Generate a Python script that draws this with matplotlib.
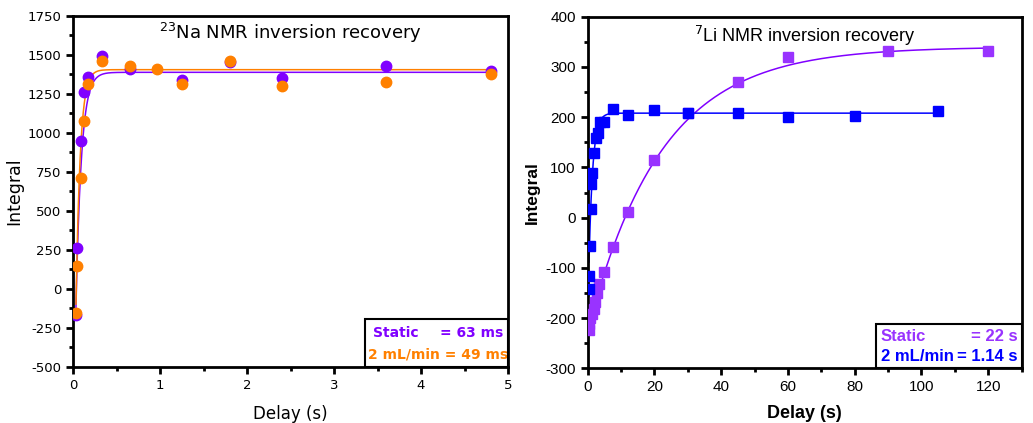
import numpy as np
import matplotlib
matplotlib.use("Agg")
import matplotlib.pyplot as plt
from matplotlib.ticker import MultipleLocator

plt.rcParams["axes.unicode_minus"] = False

# 23Na inversion recovery data (delay in s)
na_static_t = [0.03, 0.05, 0.09, 0.13, 0.17, 0.33, 0.65, 1.25, 1.8, 2.4, 3.6, 4.8]
na_static_y = [-169, 263, 947, 1261, 1355, 1494, 1410, 1340, 1452, 1352, 1428, 1397]
na_flow_t = [0.03, 0.05, 0.09, 0.13, 0.17, 0.33, 0.65, 0.97, 1.25, 1.8, 2.4, 3.6, 4.8]
na_flow_y = [-155, 146, 712, 1075, 1312, 1458, 1430, 1410, 1310, 1462, 1298, 1322, 1378]

# 7Li inversion recovery data (delay in s)
li_static_t = [0.4, 0.5, 0.8, 1.2, 1.8, 2.3, 2.8, 3.5, 5, 7.5, 12, 20, 30, 45, 60, 90, 120]
li_static_y = [-224, -211, -199, -191, -181, -168, -151, -132, -108, -58, 12, 115, 208, 270, 320, 332, 332]
li_flow_t = [0.4, 0.5, 0.6, 0.9, 1.0, 1.2, 1.9, 2.5, 3.0, 3.7, 4.9, 7.6, 12, 20, 30, 45, 60, 80, 105]
li_flow_y = [-142, -116, -56, 17, 67, 89, 129, 159, 169, 191, 190, 217, 204, 215, 208, 209, 200, 203, 213]

# fitted recovery curves: plateau, amplitude, T1 (s), start, end
na_static_fit = (1387, 2555, 0.063, 0.03, 4.8)
na_flow_fit = (1404, 3008, 0.049, 0.034, 4.8)
li_static_fit = (340, 565, 22.0, 0.3, 120)
li_flow_fit = (208, 421, 1.14, 0.4, 105)

PURPLE = "#8000ff"
ORANGE = "#ff8000"
LI_PURPLE = "#9933ff"
BLUE = "#0000ff"


def fit_curve(ax, fit, color):
    p, b, t1, t0, t_end = fit
    t = np.linspace(t0, t_end, 2000)
    ax.plot(t, p - b * np.exp(-t / t1), color=color, lw=1.1, zorder=2)


def style_axes(ax, family, size):
    for s in ax.spines.values():
        s.set_linewidth(2)
    ax.tick_params(which="both", direction="out", width=2, top=False, right=False)
    ax.tick_params(which="major", length=5, labelsize=size)
    ax.tick_params(which="minor", length=3)
    for lab in ax.get_xticklabels() + ax.get_yticklabels():
        lab.set_family(family)


fig = plt.figure(figsize=(10.33, 4.23), dpi=100)

# ---- left: 23Na ----
ax1 = fig.add_axes([0.0707, 0.1331, 0.4211, 0.8298])
fit_curve(ax1, na_static_fit, PURPLE)
fit_curve(ax1, na_flow_fit, ORANGE)
ax1.plot(na_static_t, na_static_y, "o", color=PURPLE, ms=7.5, zorder=3)
ax1.plot(na_flow_t, na_flow_y, "o", color=ORANGE, ms=7.5, zorder=4)
ax1.set_xlim(0, 5)
ax1.set_ylim(-500, 1750)
ax1.xaxis.set_major_locator(MultipleLocator(1))
ax1.xaxis.set_minor_locator(MultipleLocator(0.5))
ax1.yaxis.set_major_locator(MultipleLocator(250))
ax1.yaxis.set_minor_locator(MultipleLocator(125))
style_axes(ax1, "DejaVu Sans", 9.5)
ax1.set_xlabel("Delay (s)", fontsize=12, family="DejaVu Sans", labelpad=10)
ax1.set_ylabel("Integral", fontsize=12.5, family="DejaVu Sans", labelpad=3)
ax1.text(0.5, 0.95, r"$^{23}$Na NMR inversion recovery", transform=ax1.transAxes,
         ha="center", va="center", fontsize=13, family="DejaVu Sans")
ax1.add_patch(plt.Rectangle((0.671, 0.0), 0.329, 0.135, transform=ax1.transAxes,
                            fill=False, lw=1.5, ec="black", zorder=5))
ax1.text(0.69, 0.097, "Static", transform=ax1.transAxes, color=PURPLE,
         fontsize=10, fontweight="bold", va="center")
ax1.text(0.99, 0.097, "= 63 ms", transform=ax1.transAxes, color=PURPLE,
         fontsize=10, fontweight="bold", va="center", ha="right")
ax1.text(0.678, 0.036, "2 mL/min = 49 ms", transform=ax1.transAxes, color=ORANGE,
         fontsize=10, fontweight="bold", va="center")

# ---- right: 7Li ----
ax2 = fig.add_axes([0.5689, 0.1293, 0.4201, 0.8312])
fit_curve(ax2, li_static_fit, PURPLE)
fit_curve(ax2, li_flow_fit, BLUE)
ax2.plot(li_static_t, li_static_y, "s", color=LI_PURPLE, ms=6.5, zorder=3)
ax2.plot(li_flow_t, li_flow_y, "s", color=BLUE, ms=6.5, zorder=4)
ax2.set_xlim(0, 130)
ax2.set_ylim(-300, 400)
ax2.xaxis.set_major_locator(MultipleLocator(20))
ax2.xaxis.set_minor_locator(MultipleLocator(10))
ax2.yaxis.set_major_locator(MultipleLocator(100))
ax2.yaxis.set_minor_locator(MultipleLocator(50))
style_axes(ax2, "Liberation Sans", 11)
ax2.set_xlabel("Delay (s)", fontsize=13, family="Liberation Sans", fontweight="bold", labelpad=8)
ax2.set_ylabel("Integral", fontsize=12.5, family="Liberation Sans", fontweight="bold", labelpad=4)
ax2.text(0.5, 0.945, r"$^{7}$Li NMR inversion recovery", transform=ax2.transAxes,
         ha="center", va="center", fontsize=13, family="Liberation Sans")
ax2.add_patch(plt.Rectangle((0.664, 0.0), 0.336, 0.126, transform=ax2.transAxes,
                            fill=False, lw=1.5, ec="black", zorder=5))
ax2.text(0.675, 0.09, "Static", transform=ax2.transAxes, color=LI_PURPLE,
         fontsize=12, fontweight="bold", va="center", family="Liberation Sans")
ax2.text(0.99, 0.09, "= 22 s", transform=ax2.transAxes, color=LI_PURPLE,
         fontsize=12, fontweight="bold", va="center", ha="right", family="Liberation Sans")
ax2.text(0.675, 0.033, "2 mL/min", transform=ax2.transAxes, color=BLUE,
         fontsize=12, fontweight="bold", va="center", family="Liberation Sans")
ax2.text(0.99, 0.033, "= 1.14 s", transform=ax2.transAxes, color=BLUE,
         fontsize=12, fontweight="bold", va="center", ha="right", family="Liberation Sans")

fig.savefig("out.png", dpi=100)
